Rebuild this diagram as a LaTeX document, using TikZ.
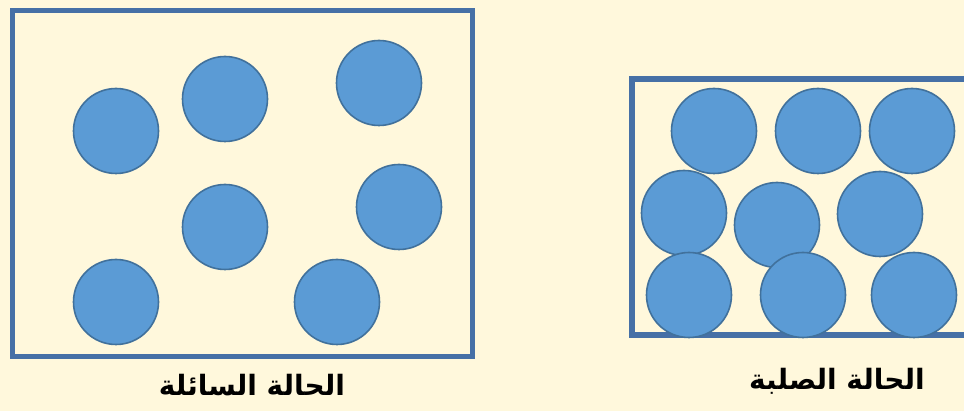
\documentclass[tikz,border=0pt]{standalone}
\usepackage{fontspec}
\usepackage{tikz}
\usetikzlibrary{positioning}
\TeXXeTstate=1
\newfontfamily\arabicfont[Script=Arabic]{DejaVu Sans}
\definecolor{paper}{RGB}{255,248,220}
\definecolor{ballfill}{RGB}{91,155,213}
\definecolor{ballline}{RGB}{65,113,156}
\definecolor{boxline}{RGB}{70,112,166}

\begin{document}
\begin{tikzpicture}[x=1pt, y=-1pt,
        ball/.style={circle, fill=ballfill, draw=ballline, line width=1.6pt, minimum size=85pt, inner sep=0pt},
        vessel/.style={draw=boxline, line width=5pt},
        caption/.style={font=\arabicfont\bfseries\fontsize{28}{32}\selectfont, text=black}]
        \fill[paper] (0,0) rectangle (964,411);
        \useasboundingbox (0,0) rectangle (964,411);

        % liquid
        \draw[vessel] (12.5,10.5) rectangle (472,357);
        \node[ball] (liq1) at (116,131) {};
        \node[ball] (liq2) at (225,99) {};
        \node[ball] (liq3) at (379,83) {};
        \node[ball] (liq4) at (225,227) {};
        \node[ball] (liq5) at (399,207) {};
        \node[ball] (liq6) at (116,302) {};
        \node[ball] (liq7) at (337,302) {};
        \node[caption] (liqlabel) at (252,385) {\beginR الحالة السائلة\endR};

        % solid
        \draw[vessel, line width=6pt] (632,79) rectangle (968,335);
        \node[ball] (sol1) at (714,131) {};
        \node[ball] (sol2) at (818,131) {};
        \node[ball] (sol3) at (912,131) {};
        \node[ball] (sol4) at (684,213) {};
        \node[ball] (sol5) at (777,225) {};
        \node[ball] (sol6) at (880,214) {};
        \node[ball] (sol7) at (689,295) {};
        \node[ball] (sol8) at (803,295) {};
        \node[ball] (sol9) at (914,295) {};
        \node[caption] (sollabel) at (837,381) {\beginR الحالة الصلبة\endR};
\end{tikzpicture}
\end{document}
